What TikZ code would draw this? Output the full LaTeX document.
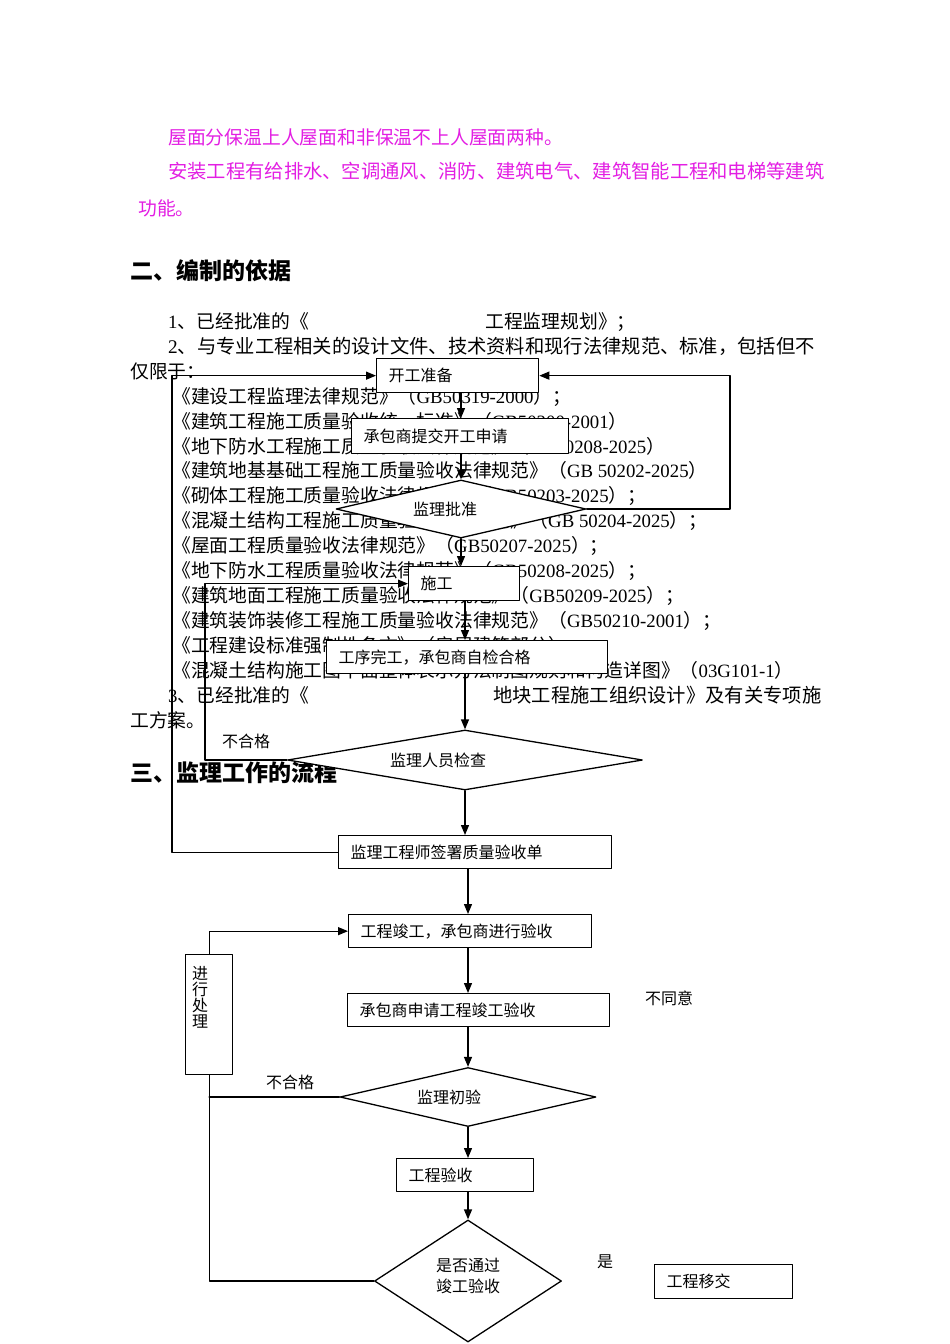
\documentclass[tikz,border=0pt]{standalone}
\usepackage{fontspec}
\setmainfont{Noto Sans CJK SC}
\newfontfamily\latn{Liberation Serif}
\usetikzlibrary{shapes.geometric,arrows.meta}
\definecolor{PageMagenta}{HTML}{E31EE3}
\newcommand{\bodyfont}{\fontsize{18.8}{22}\selectfont}
\newcommand{\widefont}{\fontsize{19.3}{22}\selectfont}
\newcommand{\headfont}{\fontsize{23}{26}\selectfont\bfseries}
\newcommand{\chartfont}{\fontsize{16}{16}\selectfont}
\newcommand{\gb}[1]{{\latn #1}}

\begin{document}
\begin{tikzpicture}[x=1pt,y=-1pt,line cap=round,line join=round,
  body/.style={anchor=base west,inner sep=0pt,font=\bodyfont},
  pink/.style={body,text=PageMagenta},
  head/.style={anchor=base west,inner sep=0pt,font=\headfont},
  flowbox/.style={draw,fill=white,anchor=north west,inner xsep=12pt,inner ysep=0pt,
    align=left,font=\chartfont,line width=1.3pt},
  decide/.style={shape=diamond,draw,fill=white,inner sep=0pt,line width=1.3pt},
  dtext/.style={font=\chartfont,inner sep=0pt},
  arr/.style={-{Triangle[length=10pt,width=8pt]},line width=1.3pt}]
  \useasboundingbox (0,0) rectangle (950,1344);
  \fill[white] (0,0) rectangle (950,1344);

  % page text
  \node[pink] (p1) at (168,144) {屋面分保温上人屋面和非保温不上人屋面两种。};
  \node[pink,font=\widefont] (p2) at (168,178) {安装工程有给排水、空调通风、消防、建筑电气、建筑智能工程和电梯等建筑};
  \node[pink] (p3) at (138,215) {功能。};
  \node[head] (h2) at (130,279) {二、编制的依据};
  \node[body] (b1) at (168,328) {\gb{1}、已经批准的《};
  \node[body] (b1r) at (485,328) {工程监理规划》；};
  \node[body,font=\widefont] (b2) at (168,353) {\gb{2}、与专业工程相关的设计文件、技术资料和现行法律规范、标准，包括但不};
  \node[body] (b3) at (130,378) {仅限于：};
  \node[body] (s1) at (172,403) {《建设工程监理法律规范》（\gb{GB50319-2000}）；};
  \node[body] (s2) at (172,428) {《建筑工程施工质量验收统一标准》（\gb{GB50300-2001}）};
  \node[body] (s3) at (172,453) {《地下防水工程施工质量验收法律规范》（\gb{GB50208-2025}）};
  \node[body] (s4) at (172,477) {《建筑地基基础工程施工质量验收法律规范》（\gb{GB 50202-2025}）};
  \node[body] (s5) at (172,502) {《砌体工程施工质量验收法律规范》（\gb{GB50203-2025}）；};
  \node[body] (s6) at (172,527) {《混凝土结构工程施工质量验收法律规范》（\gb{GB 50204-2025}）；};
  \node[body] (s7) at (172,552) {《屋面工程质量验收法律规范》（\gb{GB50207-2025}）；};
  \node[body] (s8) at (172,577) {《地下防水工程质量验收法律规范》（\gb{GB50208-2025}）；};
  \node[body] (s9) at (172,602) {《建筑地面工程施工质量验收法律规范》（\gb{GB50209-2025}）；};
  \node[body] (s10) at (172,627) {《建筑装饰装修工程施工质量验收法律规范》（\gb{GB50210-2001}）；};
  \node[body] (s11) at (172,652) {《工程建设标准强制性条文》（房屋建筑部分）};
  \node[body] (s12) at (172,677) {《混凝土结构施工图平面整体表示方法制图规则和构造详图》（\gb{03G101-1}）};
  \node[body] (b4) at (168,702) {\gb{3}、已经批准的《};
  \node[body,font=\widefont] (b4r) at (493,702) {地块工程施工组织设计》及有关专项施};
  \node[body] (b5) at (130,727) {工方案。};
  \node[head] (h3) at (130,781) {三、监理工作的流程};

  % flow chart
  \node[flowbox,text width=138pt,minimum height=34pt] (kgzb) at (376,358) {开工准备};
  \node[flowbox,text width=193pt,minimum height=35pt] (cbtj) at (351,418) {承包商提交开工申请};
  \node[decide,minimum width=250pt,minimum height=58pt,
    label={[dtext,xshift=-16pt]center:监理批准}] (jlpz) at (461,509) {};
  \node[flowbox,text width=87pt,minimum height=34pt] (sg) at (408,566) {施工};
  \node[flowbox,text width=257pt,minimum height=33pt] (gxwg) at (326,640) {工序完工，承包商自检合格};
  \node[decide,minimum width=355pt,minimum height=60pt,
    label={[dtext,xshift=-27pt]center:监理人员检查}] (jlry) at (465,760) {};
  \node[flowbox,text width=249pt,minimum height=33pt] (qszl) at (338,835) {监理工程师签署质量验收单};
  \node[flowbox,text width=219pt,minimum height=33pt] (jgys) at (348,914) {工程竣工，承包商进行验收};
  \node[flowbox,text width=238pt,minimum height=33pt] (sqjg) at (347,993) {承包商申请工程竣工验收};
  \node[decide,minimum width=256pt,minimum height=59pt,
    label={[dtext,xshift=-19pt]center:监理初验}] (jlcy) at (468,1097) {};
  \node[flowbox,text width=113pt,minimum height=33pt] (gcys) at (396,1158) {工程验收};
  \node[decide,minimum width=187pt,minimum height=122pt,
    label={[dtext,align=center,font=\fontsize{16}{21}\selectfont,yshift=5pt]center:是否通过\\竣工验收}] (sftg) at (468,1281) {};
  \node[flowbox,text width=114pt,minimum height=34pt] (gcyj) at (654,1264) {工程移交};
  \node[flowbox,minimum width=47pt,minimum height=120pt,
    label={[dtext,align=center,xshift=-9pt,yshift=17pt]center:进\\行\\处\\理}] (jxcl) at (185,954) {};

  \node[dtext] (ng1) at (246,741) {不合格};
  \node[dtext] (ng2) at (290,1082) {不合格};
  \node[dtext] (bty) at (669,998) {不同意};
  \node[dtext] (yes) at (605,1262) {是};

  % main column
  \draw[arr] (kgzb.south -| jlpz) -- (cbtj.north -| jlpz);
  \draw[arr] (cbtj.south -| jlpz) -- (jlpz.north);
  \draw[arr] (jlpz.south) -- (sg.north -| jlpz);
  \draw[arr] (sg.south -| jlry) -- (gxwg.north -| jlry);
  \draw[arr] (gxwg.south -| jlry) -- (jlry.north);
  \draw[arr] (jlry.south) -- (qszl.north -| jlry);
  \draw[arr] (qszl.south -| jlcy) -- (jgys.north -| jlcy);
  \draw[arr] (jgys.south -| jlcy) -- (sqjg.north -| jlcy);
  \draw[arr] (sqjg.south -| jlcy) -- (jlcy.north);
  \draw[arr] (jlcy.south) -- (gcys.north -| jlcy);
  \draw[arr] (gcys.south -| sftg) -- (sftg.north);

  % return lines
  \coordinate (backA) at (205,0);
  \coordinate (backB) at (172,0);
  \coordinate (backC) at (730,0);
  \draw[arr] (jlry.west) -- (jlry.west -| backA) |- (sg.west);
  \draw[arr] (qszl.west) -- (qszl.west -| backB) |- (kgzb.west);
  \draw[arr] (jlpz.east) -- (jlpz.east -| backC) |- (kgzb.east);
  \draw[arr] (jxcl.north) |- (jgys.west);
  \draw[line width=1.3pt] (jlcy.west) -- (jlcy.west -| jxcl);
  \draw[line width=1.3pt] (jxcl.south) |- (sftg.west);
\end{tikzpicture}
\end{document}
